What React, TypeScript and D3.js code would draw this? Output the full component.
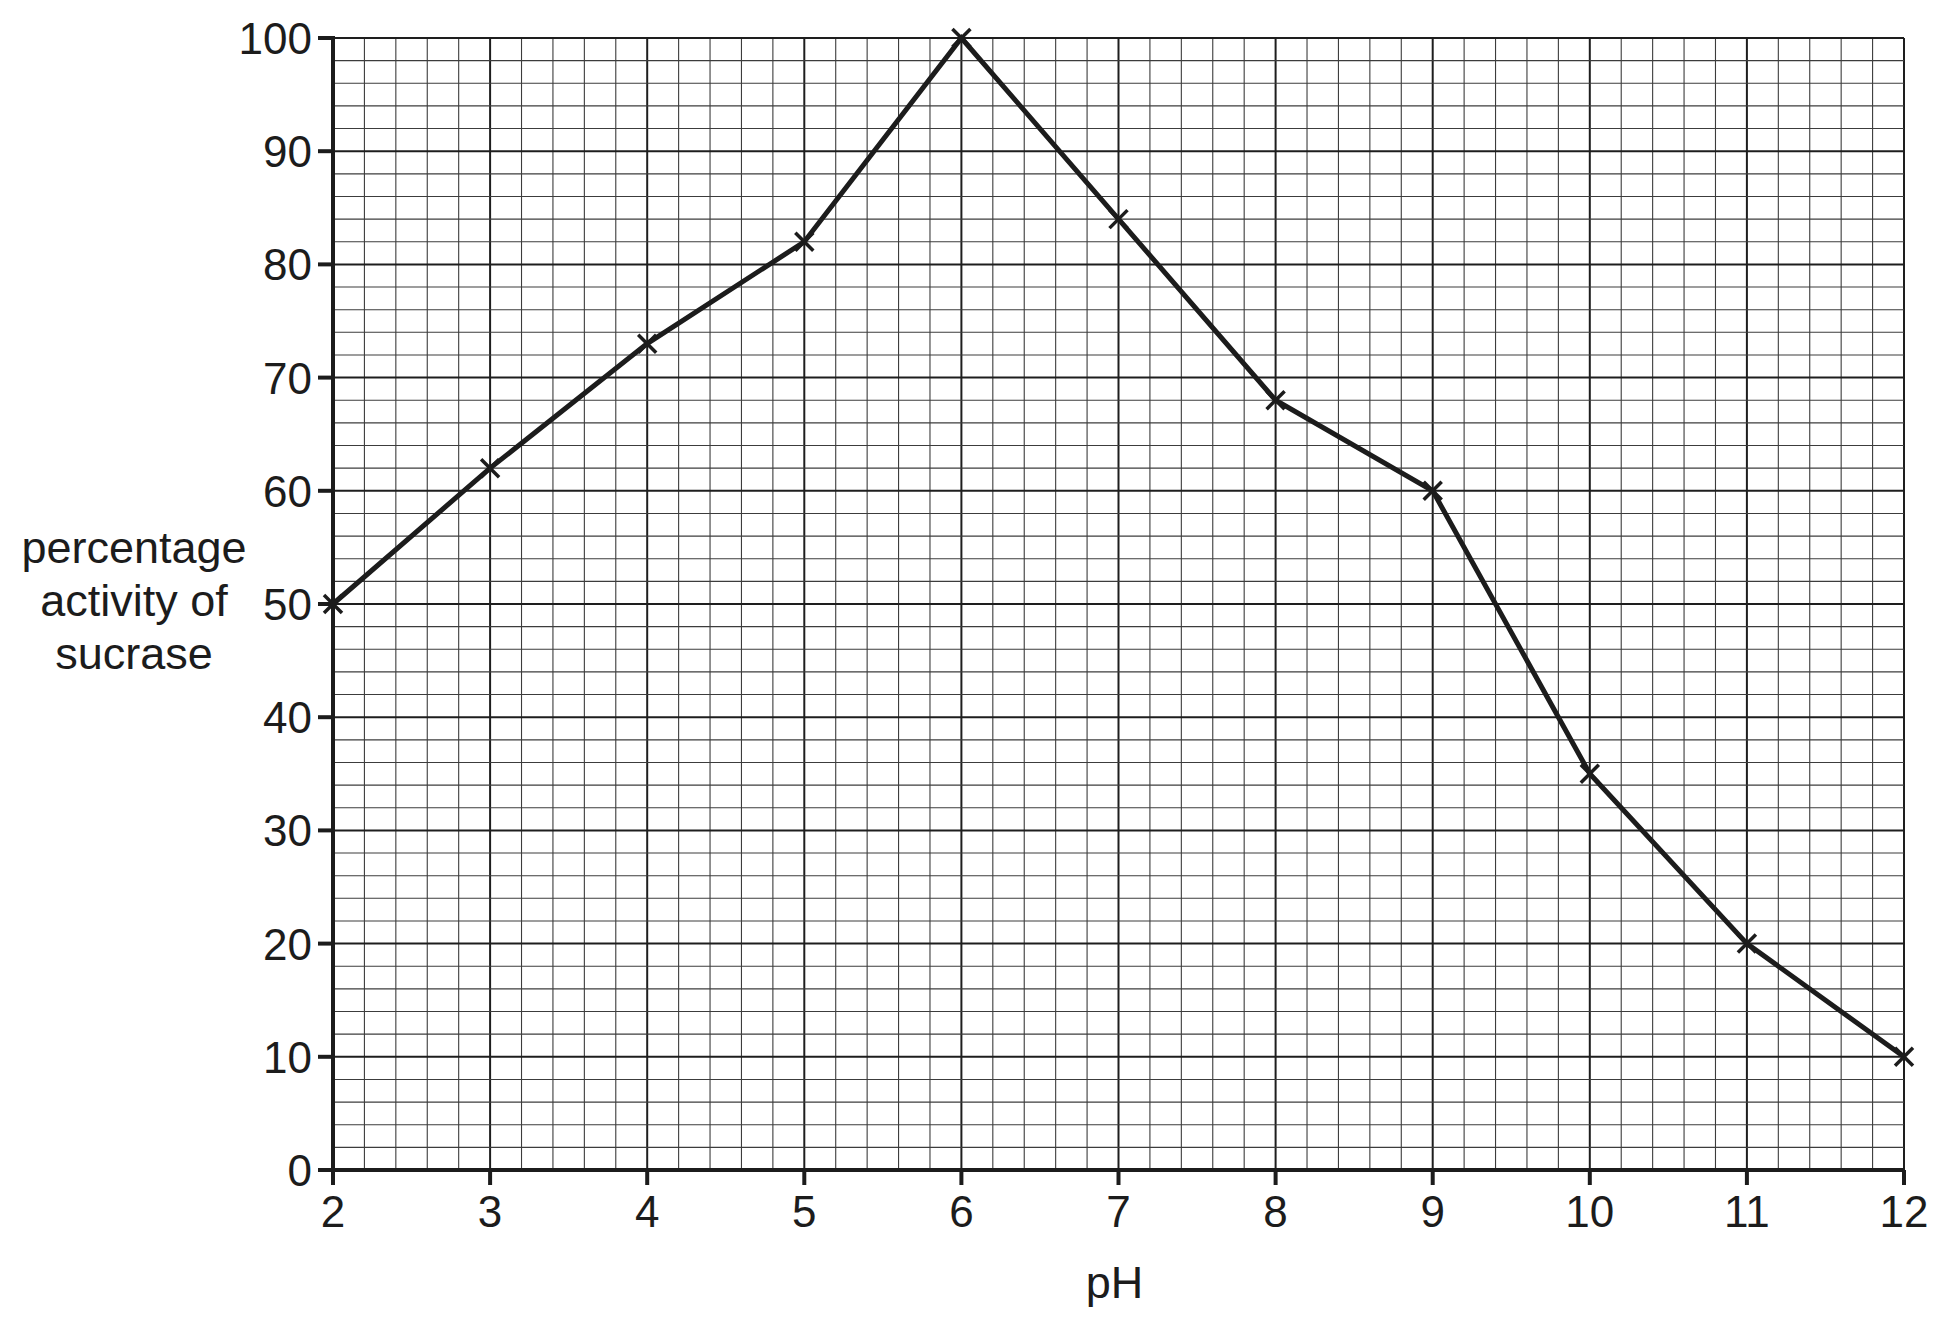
import React, { useRef, useEffect } from 'react';
import * as d3 from 'd3';

// pH values and measured activity (%)
const phValues = [2, 3, 4, 5, 6, 7, 8, 9, 10, 11, 12];
const activity = [50, 62, 73, 82, 100, 84, 68, 60, 35, 20, 10];
const xTicks = [2, 3, 4, 5, 6, 7, 8, 9, 10, 11, 12];
const yTicks = [0, 10, 20, 30, 40, 50, 60, 70, 80, 90, 100];
const yLabelLines = ['percentage', 'activity of', 'sucrase'];
const xLabel = 'pH';

const WIDTH = 1948;
const HEIGHT = 1319;
const FONT = '"Liberation Sans", Arial, Helvetica, sans-serif';
const INK = '#1c1c1c';

const App: React.FC = () => {
  const svgRef = useRef<SVGSVGElement>(null);

  useEffect(() => {
    if (!svgRef.current) return;
    const root = d3.select(svgRef.current);
    root.selectAll('*').remove();

    const margin = { top: 38, right: 44, bottom: 149, left: 333 };

    const x = d3.scaleLinear().domain([2, 12]).range([margin.left, WIDTH - margin.right]);
    const y = d3.scaleLinear().domain([0, 100]).range([HEIGHT - margin.bottom, margin.top]);

    const [x0, x1] = x.range();
    const [y0, y1] = y.range();

    // minor grid: 0.2 pH and 2 % steps
    const minorX = d3.range(2, 12.0001, 0.2).map((v) => +v.toFixed(1));
    const minorY = d3.range(0, 100.0001, 2);

    const grid = root.append('g');
    grid
      .selectAll('line.vx')
      .data(minorX)
      .enter()
      .append('line')
      .attr('x1', (d) => x(d))
      .attr('x2', (d) => x(d))
      .attr('y1', y0)
      .attr('y2', y1)
      .attr('stroke', (d) => (Number.isInteger(d) ? '#1e1e1e' : '#3c3c3c'))
      .attr('stroke-width', (d) => (Number.isInteger(d) ? 2 : 1.1));

    grid
      .selectAll('line.hy')
      .data(minorY)
      .enter()
      .append('line')
      .attr('x1', x0)
      .attr('x2', x1)
      .attr('y1', (d) => y(d))
      .attr('y2', (d) => y(d))
      .attr('stroke', (d) => (d % 10 === 0 ? '#1e1e1e' : '#3c3c3c'))
      .attr('stroke-width', (d) => (d % 10 === 0 ? 2 : 1.1));

    // axes (thick), with ticks
    const axes = root.append('g').attr('stroke', INK).attr('stroke-width', 4);
    axes.append('line').attr('x1', x0 - 15).attr('x2', x1).attr('y1', y0).attr('y2', y0);
    axes.append('line').attr('x1', x0).attr('x2', x0).attr('y1', y0 + 15).attr('y2', y1 - 2);

    axes
      .selectAll('line.xt')
      .data(xTicks)
      .enter()
      .append('line')
      .attr('x1', (d) => x(d))
      .attr('x2', (d) => x(d))
      .attr('y1', y0)
      .attr('y2', y0 + 15);

    axes
      .selectAll('line.yt')
      .data(yTicks)
      .enter()
      .append('line')
      .attr('x1', x0 - 15)
      .attr('x2', x0)
      .attr('y1', (d) => y(d))
      .attr('y2', (d) => y(d));

    // tick labels
    const labels = root.append('g').attr('fill', INK).style('font-family', FONT).style('font-size', '44px');
    labels
      .selectAll('text.xl')
      .data(xTicks)
      .enter()
      .append('text')
      .attr('x', (d) => x(d))
      .attr('y', y0 + 57)
      .attr('text-anchor', 'middle')
      .text((d) => d);

    labels
      .selectAll('text.yl')
      .data(yTicks)
      .enter()
      .append('text')
      .attr('x', x0 - 21)
      .attr('y', (d) => y(d) + 16)
      .attr('text-anchor', 'end')
      .text((d) => d);

    // axis titles
    labels
      .append('text')
      .attr('x', (x0 + x1) / 2 - 4)
      .attr('y', 1298)
      .attr('text-anchor', 'middle')
      .style('font-size', '45px')
      .text(xLabel);

    labels
      .selectAll('text.ylab')
      .data(yLabelLines)
      .enter()
      .append('text')
      .attr('x', 134)
      .attr('y', (d, i) => 563 + i * 53)
      .attr('text-anchor', 'middle')
      .style('font-size', '45px')
      .text((d) => d);

    // data line
    const points = phValues.map((p, i) => [p, activity[i]] as [number, number]);
    const line = d3
      .line<[number, number]>()
      .x((d) => x(d[0]))
      .y((d) => y(d[1]));

    root
      .append('path')
      .datum(points)
      .attr('d', line)
      .attr('fill', 'none')
      .attr('stroke', INK)
      .attr('stroke-width', 5)
      .attr('stroke-linejoin', 'miter');

    // cross markers
    const s = 9;
    root
      .append('g')
      .selectAll('path')
      .data(points)
      .enter()
      .append('path')
      .attr('d', (d) => {
        const cx = x(d[0]);
        const cy = y(d[1]);
        return `M${cx - s},${cy - s}L${cx + s},${cy + s}M${cx - s},${cy + s}L${cx + s},${cy - s}`;
      })
      .attr('stroke', INK)
      .attr('stroke-width', 3.5)
      .attr('fill', 'none');
  }, []);

  return (
    <div style={{ position: 'absolute', left: 0, top: 0, background: '#fff' }}>
      <svg ref={svgRef} width={WIDTH} height={HEIGHT} style={{ display: 'block' }} />
    </div>
  );
};

export default App;
